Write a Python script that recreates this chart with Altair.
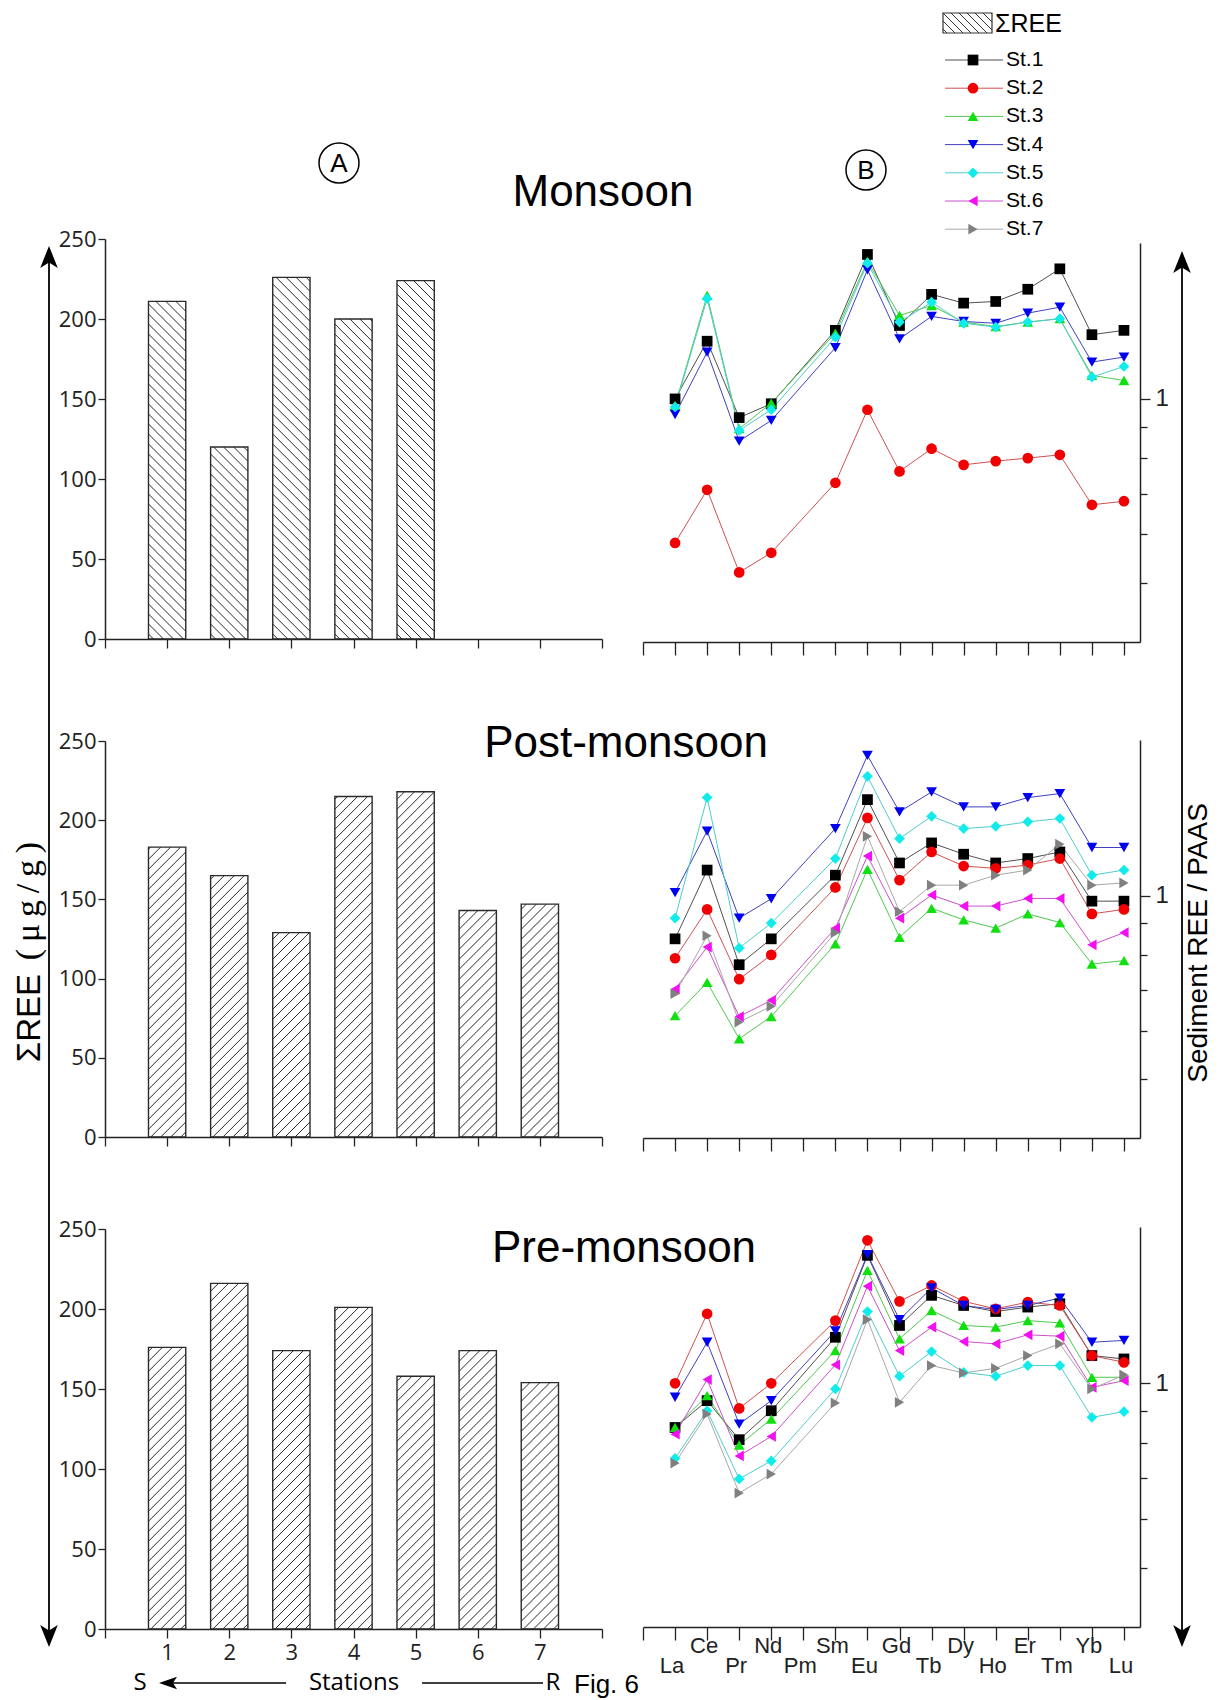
import altair as alt
import pandas as pd

# ---------------- data ----------------
stations = [1, 2, 3, 4, 5, 6, 7]
station_names = ["St.1", "St.2", "St.3", "St.4", "St.5", "St.6", "St.7"]

sum_ree_monsoon = [211, 120, 226, 200, 224]
sum_ree_post = [183, 165, 129, 215, 218, 143, 147]
sum_ree_pre = [176, 216, 174, 201, 158, 174, 154]

elements = ["La", "Ce", "Pr", "Nd", "Pm", "Sm", "Eu", "Gd", "Tb", "Dy", "Ho", "Er", "Tm", "Yb", "Lu"]

# sediment REE / PAAS (Pm not measured)
mon_st1 = [1.000, 1.243, 0.932, 0.982, None, 1.295, 1.724, 1.319, 1.483, 1.435, 1.444, 1.512, 1.633, 1.274, 1.295]
mon_st2 = [0.581, 0.710, 0.520, 0.560, None, 0.729, 0.960, 0.761, 0.829, 0.780, 0.791, 0.800, 0.810, 0.671, 0.680]
mon_st3 = [0.976, 1.477, 0.894, 0.984, None, 1.282, 1.681, 1.370, 1.422, 1.336, 1.314, 1.336, 1.353, 1.093, 1.072]
mon_st4 = [0.943, 1.193, 0.853, 0.922, None, 1.213, 1.627, 1.254, 1.365, 1.339, 1.330, 1.382, 1.413, 1.149, 1.171]
mon_st5 = [0.970, 1.459, 0.888, 0.960, None, 1.262, 1.668, 1.336, 1.440, 1.330, 1.311, 1.336, 1.353, 1.086, 1.130]

post_st1 = [0.849, 1.101, 0.770, 0.849, None, 1.080, 1.437, 1.131, 1.220, 1.169, 1.131, 1.150, 1.179, 0.979, 0.979]
post_st2 = [0.789, 0.949, 0.729, 0.799, None, 1.031, 1.341, 1.060, 1.179, 1.118, 1.108, 1.122, 1.150, 0.933, 0.949]
post_st3 = [0.635, 0.720, 0.582, 0.633, None, 0.833, 1.104, 0.854, 0.953, 0.912, 0.884, 0.933, 0.903, 0.772, 0.782]
post_st4 = [1.011, 1.276, 0.918, 0.988, None, 1.288, 1.698, 1.372, 1.479, 1.398, 1.398, 1.448, 1.470, 1.199, 1.199]
post_st5 = [0.918, 1.448, 0.820, 0.901, None, 1.150, 1.569, 1.240, 1.349, 1.288, 1.299, 1.321, 1.338, 1.080, 1.101]
post_st6 = [0.702, 0.823, 0.633, 0.673, None, 0.884, 1.161, 0.918, 1.002, 0.961, 0.961, 0.989, 0.989, 0.830, 0.869]
post_st7 = [0.690, 0.859, 0.620, 0.658, None, 0.869, 1.251, 0.941, 1.040, 1.040, 1.080, 1.101, 1.214, 1.040, 1.049]

pre_st1 = [0.847, 0.937, 0.809, 0.902, None, 1.189, 1.618, 1.243, 1.392, 1.340, 1.310, 1.332, 1.349, 1.110, 1.096]
pre_st2 = [1.000, 1.299, 0.910, 1.000, None, 1.266, 1.712, 1.361, 1.445, 1.361, 1.323, 1.357, 1.340, 1.110, 1.082]
pre_st3 = [0.847, 0.955, 0.793, 0.874, None, 1.131, 1.529, 1.182, 1.315, 1.243, 1.235, 1.266, 1.255, 1.023, 1.023]
pre_st4 = [0.949, 1.167, 0.858, 0.937, None, 1.218, 1.622, 1.270, 1.431, 1.340, 1.320, 1.340, 1.378, 1.167, 1.175]
pre_st5 = [0.754, 0.902, 0.698, 0.747, None, 0.979, 1.310, 1.027, 1.127, 1.042, 1.027, 1.069, 1.069, 0.880, 0.899]
pre_st6 = [0.826, 1.014, 0.761, 0.819, None, 1.072, 1.441, 1.131, 1.235, 1.170, 1.160, 1.200, 1.194, 0.985, 1.010]
pre_st7 = [0.741, 0.891, 0.662, 0.711, None, 0.929, 1.271, 0.931, 1.069, 1.040, 1.058, 1.110, 1.160, 0.979, 1.032]

monsoon_series = [mon_st1, mon_st2, mon_st3, mon_st4, mon_st5]
post_series = [post_st1, post_st2, post_st3, post_st4, post_st5, post_st6, post_st7]
pre_series = [pre_st1, pre_st2, pre_st3, pre_st4, pre_st5, pre_st6, pre_st7]

# ---------------- style ----------------
marker_colors = ["#000000", "#f00000", "#10e010", "#0000f0", "#10ecec", "#f010f0", "#808080"]
line_colors = ["#505050", "#d05050", "#50c850", "#4040c0", "#50cccc", "#cc50cc", "#a8a8a8"]
marker_shapes = ["square", "circle", "triangle-up", "triangle-down", "diamond", "triangle-left", "triangle-right"]
AX = "#222222"
SANS = "Liberation Sans"
NUM = "Open Sans"

W, H = 1209, 1692
BAR_X = [97, 594]
LINE_X = [635, 1132]


def hatch_df(values, yr, direction, spacing=10.0):
    sx = (BAR_X[1] - BAR_X[0]) / 8.0
    sy = (yr[0] - yr[1]) / 250.0
    rows = []
    for st, v in zip(stations, values):
        L = (st - 0.3) * sx
        w = 0.6 * sx
        T = v * sy
        if direction == "/":
            c = -w + spacing / 2
            while c < T:
                u0, u1 = max(0.0, -c), min(w, T - c)
                if u1 > u0:
                    rows.append(dict(x1=(L + u0) / sx, x2=(L + u1) / sx, y1=(u0 + c) / sy, y2=(u1 + c) / sy))
                c += spacing
        else:
            c = spacing / 2
            while c < T + w:
                u0, u1 = max(0.0, c - T), min(w, c)
                if u1 > u0:
                    rows.append(dict(x1=(L + u0) / sx, x2=(L + u1) / sx, y1=(c - u0) / sy, y2=(c - u1) / sy))
                c += spacing
    return pd.DataFrame(rows)


def bar_panel(values, yr, direction, show_labels):
    xs = alt.Scale(domain=[0, 8], range=BAR_X, nice=False, zero=False)
    ys = alt.Scale(domain=[0, 250], range=yr, nice=False)
    hatch = alt.Chart(hatch_df(values, yr, direction)).mark_rule(color="#2a2a2a", strokeWidth=1).encode(
        x=alt.X("x1:Q", scale=xs, axis=None), x2="x2:Q",
        y=alt.Y("y1:Q", scale=ys, axis=None), y2="y2:Q")
    xaxis = alt.Axis(orient="bottom", offset=yr[0] - H, values=list(range(9)), tickSize=9,
                     labels=show_labels,
                     labelExpr="datum.value >= 1 && datum.value <= 7 ? datum.label : ''",
                     labelFont=NUM, labelFontSize=22, labelPadding=4, labelColor=AX,
                     title=None, grid=False, domainColor=AX, domainWidth=1.5,
                     tickColor=AX, tickWidth=1.3)
    yaxis = alt.Axis(orient="left", offset=-BAR_X[0], values=[0, 50, 100, 150, 200, 250], tickSize=7,
                     labelFont=NUM, labelFontSize=22, labelPadding=2, labelColor=AX,
                     title=None, grid=False, domainColor=AX, domainWidth=1.5,
                     tickColor=AX, tickWidth=1.3)
    df = pd.DataFrame({"station": stations[:len(values)], "ree": values})
    bars = alt.Chart(df).transform_calculate(
        lo="datum.station - 0.3", hi="datum.station + 0.3", base="0"
    ).mark_bar(fillOpacity=0, stroke="#2a2a2a", strokeWidth=1.4).encode(
        x=alt.X("lo:Q", scale=xs, axis=xaxis), x2="hi:Q",
        y=alt.Y("ree:Q", scale=ys, axis=yaxis), y2="base:Q")
    return [hatch, bars]


def line_panel(series, yr, show_labels):
    rows = []
    for name, vals in zip(station_names, series):
        for i, (el, v) in enumerate(zip(elements, vals)):
            if v is None:
                continue
            rows.append(dict(station=name, pos=i + 1, element=el, value=v))
    df = pd.DataFrame(rows)
    xs = alt.Scale(domain=[0, 15.5], range=LINE_X, nice=False, zero=False)
    ys = alt.Scale(type="log", domain=[0.4, 1.8], range=yr, nice=False)
    xaxis = alt.Axis(orient="bottom", offset=yr[0] - H, values=list(range(16)), tickSize=13,
                     labels=False, title=None, grid=False, domainColor=AX, domainWidth=1.5,
                     tickColor=AX, tickWidth=1.3)
    ymajor = alt.Axis(orient="right", offset=LINE_X[1] - W, values=[1], tickSize=10,
                      labelExpr="'1'", labelFont=SANS, labelFontSize=24, labelPadding=5, labelColor=AX,
                      title=None, grid=False, domainColor=AX, domainWidth=1.5,
                      tickColor=AX, tickWidth=1.3)
    yminor = alt.Axis(orient="right", offset=LINE_X[1] - W, values=[0.5, 0.6, 0.7, 0.8, 0.9], tickSize=7,
                      labels=False, domain=False, title=None, grid=False,
                      tickColor=AX, tickWidth=1.3)
    lines = alt.Chart(df).mark_line(strokeWidth=1).encode(
        x=alt.X("pos:Q", scale=xs, axis=xaxis),
        y=alt.Y("value:Q", scale=ys, axis=ymajor),
        stroke=alt.Stroke("station:N", scale=alt.Scale(domain=station_names, range=line_colors), legend=None),
        order="pos:Q")
    pts = alt.Chart(df).mark_point(filled=True, opacity=1, strokeWidth=0, size=115).encode(
        x=alt.X("pos:Q", scale=xs, axis=None),
        y=alt.Y("value:Q", scale=ys, axis=yminor),
        fill=alt.Fill("station:N", scale=alt.Scale(domain=station_names, range=marker_colors), legend=None),
        shape=alt.Shape("station:N", scale=alt.Scale(domain=station_names, range=marker_shapes), legend=None))
    layers = [lines, pts]
    if show_labels:
        el_df = pd.DataFrame({"element": elements, "pos": list(range(1, 16))})
        for parity, ypix in [(0, 1638), (1, 1658)]:
            layers.append(alt.Chart(el_df).transform_filter(f"datum.pos % 2 == {parity}").mark_text(
                font=SANS, fontSize=22, baseline="middle", dx=-3, color=AX).encode(
                x=alt.X("pos:Q", scale=xs, axis=None), y=alt.value(ypix), text="element:N"))
    return layers


def label(text, x, y, size, font=SANS, angle=0, align="center", baseline="middle"):
    return alt.Chart(pd.DataFrame({"t": [text]})).mark_text(
        fontSize=size, font=font, angle=angle, align=align, baseline=baseline, color="black"
    ).encode(x=alt.value(x), y=alt.value(y), text="t:N")


def symbol(x, y, shape, size, filled=True, sw=0):
    return alt.Chart(pd.DataFrame({"a": [0]})).mark_point(
        shape=shape, size=size, filled=filled, opacity=1, color="black", strokeWidth=sw
    ).encode(x=alt.value(x), y=alt.value(y))


def hrule(x1, x2, y, w=1.8):
    return alt.Chart(pd.DataFrame({"a": [0]})).mark_rule(color="black", strokeWidth=w).encode(
        x=alt.value(x1), x2=alt.value(x2), y=alt.value(y))


def vrule(x, y1, y2, w=1.8):
    return alt.Chart(pd.DataFrame({"a": [0]})).mark_rule(color="black", strokeWidth=w).encode(
        x=alt.value(x), y=alt.value(y1), y2=alt.value(y2))


layers = []
layers += bar_panel(sum_ree_monsoon, [631, 231], "\\", False)
layers += bar_panel(sum_ree_post, [1129, 733], "/", False)
layers += bar_panel(sum_ree_pre, [1621, 1221], "/", True)
layers += line_panel(monsoon_series, [634, 235], False)
layers += line_panel(post_series, [1130, 732], False)
layers += line_panel(pre_series, [1619, 1219], True)

# titles and letters
layers += [
    label("Monsoon", 595, 185, 44),
    label("Post-monsoon", 618, 736, 44),
    label("Pre-monsoon", 616, 1241, 44),
    label("A", 331, 156, 26), symbol(331, 155, "circle", 1600, filled=False, sw=1.5),
    label("B", 858, 163, 26), symbol(858, 162, "circle", 1600, filled=False, sw=1.5),
    label("ΣREE", 22, 1010, 33, angle=270),
    label("(\u2009μ\u2009g\u2009/\u2009g\u2009)", 21, 893, 34, font="Liberation Serif", angle=270),
    label("Sediment REE / PAAS", 1191, 935, 28, angle=270),
    label("S", 132, 1675, 24, font=NUM),
    label("Stations", 346, 1675, 24, font=NUM),
    label("R", 545, 1675, 24, font=NUM),
    label("Fig. 6", 566, 1685, 26, align="left", baseline="alphabetic"),
]

# long arrows
UP = "M0,-1L0.8,1L0,0.5L-0.8,1Z"
DOWN = "M0,1L0.8,-1L0,-0.5L-0.8,-1Z"
LEFT = "M-1,0L1,-0.7L0.55,0L1,0.7Z"
layers += [
    vrule(41, 250, 1628), symbol(41, 249, UP, 484), symbol(41, 1628, DOWN, 484),
    vrule(1174, 255, 1628), symbol(1174, 254, UP, 484), symbol(1174, 1628, DOWN, 484),
    hrule(160, 278, 1675, 1.6), symbol(160, 1675, LEFT, 324),
    hrule(414, 535, 1675, 1.6),
]

# legend
leg_df = pd.DataFrame({"station": station_names})
leg_y = alt.Scale(type="point", domain=station_names, range=[52, 52 + 6 * 28.2], padding=0)
layers += [
    alt.Chart(leg_df).mark_rule(strokeWidth=1).encode(
        x=alt.value(937), x2=alt.value(995),
        y=alt.Y("station:N", scale=leg_y, axis=None),
        stroke=alt.Stroke("station:N", scale=alt.Scale(domain=station_names, range=line_colors), legend=None)),
    alt.Chart(leg_df).mark_point(filled=True, opacity=1, strokeWidth=0, size=115).encode(
        x=alt.value(965),
        y=alt.Y("station:N", scale=leg_y, axis=None),
        fill=alt.Fill("station:N", scale=alt.Scale(domain=station_names, range=marker_colors), legend=None),
        shape=alt.Shape("station:N", scale=alt.Scale(domain=station_names, range=marker_shapes), legend=None)),
    alt.Chart(leg_df).mark_text(align="left", baseline="middle", font=SANS, fontSize=21, color="black").encode(
        x=alt.value(998), y=alt.Y("station:N", scale=leg_y, axis=None), text="station:N"),
]

# ΣREE swatch
sw_x0, sw_x1, sw_y0, sw_y1 = 935, 984, 5, 25
sw_rows = []
c = 4.0
while c < (sw_x1 - sw_x0) + (sw_y1 - sw_y0):
    u0 = max(0.0, c - (sw_y1 - sw_y0))
    u1 = min(float(sw_x1 - sw_x0), c)
    if u1 > u0:
        sw_rows.append(dict(x=sw_x0 + u0, x2=sw_x0 + u1, y=sw_y1 - (c - u0), y2=sw_y1 - (c - u1)))
    c += 8.0
layers += [
    alt.Chart(pd.DataFrame(sw_rows)).mark_rule(color="#333333", strokeWidth=1).encode(
        x=alt.X("x:Q", scale=None), x2="x2:Q", y=alt.Y("y:Q", scale=None), y2="y2:Q"),
    alt.Chart(pd.DataFrame({"a": [0]})).mark_rect(fillOpacity=0, stroke="#333333", strokeWidth=1.2).encode(
        x=alt.value(sw_x0), x2=alt.value(sw_x1), y=alt.value(sw_y0), y2=alt.value(sw_y1)),
    label("ΣREE", 987, 16, 25, align="left"),
]

chart = alt.layer(*layers).resolve_scale(
    x="independent", y="independent"
).properties(
    width=W, height=H, padding=0, autosize=alt.AutoSizeParams(type="none")
).configure(font=SANS).configure_view(strokeWidth=0, stroke="transparent")

chart.save("out.html", embed_options={"renderer": "svg", "actions": False})
